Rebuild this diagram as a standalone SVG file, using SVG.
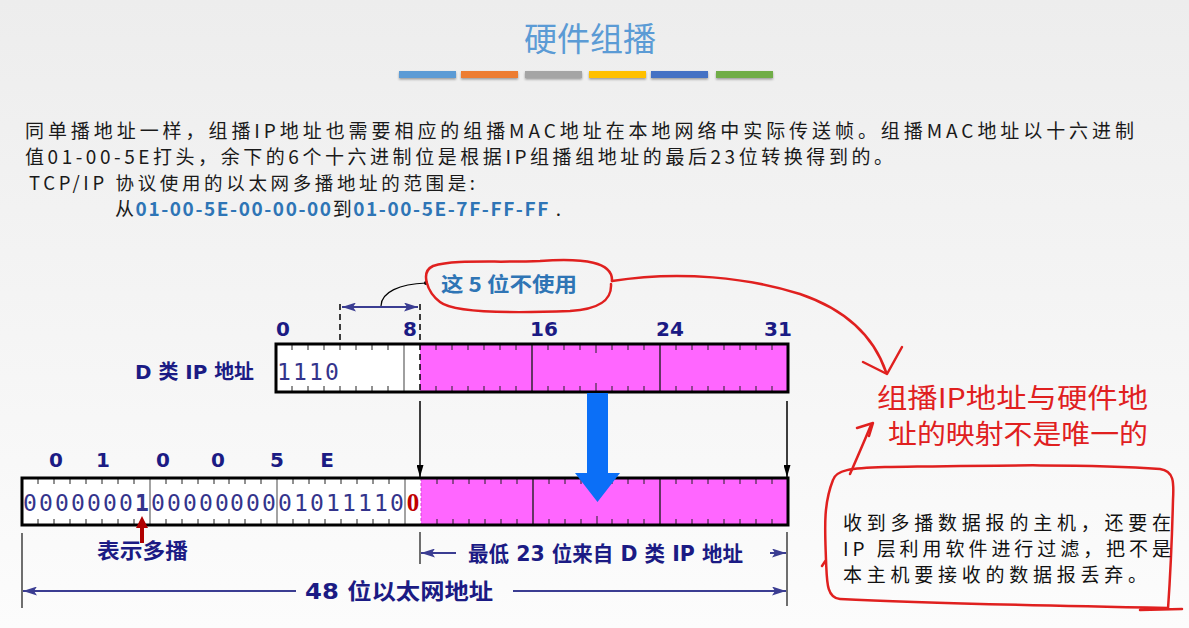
<svg xmlns="http://www.w3.org/2000/svg" width="1189" height="628" viewBox="0 0 1189 628">
  <style>
    .para { font-family: "Noto Sans CJK SC", "Liberation Sans", sans-serif; font-size: 19px; fill: #1a1a1a; }
    .hex { font-weight: bold; fill: #2e75b6; }
    .lbl { font-family: "DejaVu Sans", "Noto Sans CJK SC", sans-serif; font-weight: bold; fill: #1b1b84; }
    .bits { font-family: "DejaVu Sans Mono", "Liberation Mono", monospace; font-size: 23px; fill: #34348c; text-anchor: middle; }
    .box { fill: none; stroke: #000; stroke-width: 3; }
    .tick { stroke: #222; stroke-width: 1; fill: none; }
    .major { stroke: #222; stroke-width: 1.4; }
    .dim { stroke: #3b3d92; stroke-width: 2; fill: none; }
    .ink { stroke: #e0201f; stroke-width: 2.5; fill: none; stroke-linecap: round; stroke-linejoin: round; }
    .hand { font-family: "Noto Sans CJK SC", sans-serif; font-size: 27px; fill: #e0201f; }
  </style>
  <defs>
    <linearGradient id="bg" x1="0" y1="0" x2="0" y2="1">
      <stop offset="0" stop-color="#ededed"/>
      <stop offset="1" stop-color="#fcfcfc"/>
    </linearGradient>
    <filter id="barShadow" x="-5%" y="-50%" width="110%" height="250%">
      <feDropShadow dx="0" dy="1.5" stdDeviation="1" flood-color="#000" flood-opacity="0.35"/>
    </filter>
    <marker id="navyHead" viewBox="0 0 14 9" refX="14" refY="4.5" markerWidth="14" markerHeight="9" markerUnits="userSpaceOnUse" orient="auto-start-reverse">
      <path d="M0,0 L14,4.5 L0,9 L3,4.5 z" fill="#3b3d92"/>
    </marker>
    <marker id="blackHead" viewBox="0 0 12 7" refX="12" refY="3.5" markerWidth="12" markerHeight="7" markerUnits="userSpaceOnUse" orient="auto">
      <path d="M0,0 L12,3.5 L0,7 z" fill="#000"/>
    </marker>
  </defs>

  <rect width="1189" height="628" fill="url(#bg)"/>

  <!-- title and colour strip -->
  <g id="title">
    <text x="590" y="51" text-anchor="middle" font-family="Noto Sans CJK SC, sans-serif" font-size="33" fill="#5b9bd5">硬件组播</text>
    <g filter="url(#barShadow)">
      <rect x="399" y="71" width="57" height="7" fill="#5b9bd5"/>
      <rect x="461" y="71" width="57" height="7" fill="#ed7d31"/>
      <rect x="525" y="71" width="57" height="7" fill="#a5a5a5"/>
      <rect x="589" y="71" width="57" height="7" fill="#ffc000"/>
      <rect x="651" y="71" width="57" height="7" fill="#4472c4"/>
      <rect x="716" y="71" width="57" height="7" fill="#70ad47"/>
    </g>
  </g>

  <!-- explanatory paragraph -->
  <g id="intro" class="para">
    <text x="25" y="138" textLength="1109" lengthAdjust="spacing">同单播地址一样，组播IP地址也需要相应的组播MAC地址在本地网络中实际传送帧。组播MAC地址以十六进制</text>
    <text x="25" y="164" textLength="868" lengthAdjust="spacing">值01-00-5E打头，余下的6个十六进制位是根据IP组播组地址的最后23位转换得到的。</text>
    <text x="29" y="190" font-size="18.5" textLength="446" lengthAdjust="spacing">TCP/IP 协议使用的以太网多播地址的范围是:</text>
    <text x="115" y="216" textLength="446" lengthAdjust="spacing">从<tspan class="hex">01-00-5E-00-00-00</tspan>到<tspan class="hex">01-00-5E-7F-FF-FF</tspan> .</text>
  </g>

  <!-- D class IP address, 32 bits -->
  <g id="ip-address">
    <text class="lbl" x="135" y="379" font-size="20" textLength="119" lengthAdjust="spacingAndGlyphs">D 类 IP 地址</text>
    <g class="lbl" font-size="20" text-anchor="middle">
      <text x="283" y="336">0</text>
      <text x="410" y="336">8</text>
      <text x="544" y="336">16</text>
      <text x="670" y="336">24</text>
      <text x="778" y="336">31</text>
    </g>
    <rect x="276" y="344" width="144" height="48" fill="#ffffff"/>
    <rect x="420" y="344" width="368" height="48" fill="#ff66ff"/>
    <path class="tick" d="M292 344v6M308 344v6M324 344v6M340 344v6M356 344v6M372 344v6M388 344v6M436 344v6M452 344v6M468 344v6M484 344v6M500 344v6M516 344v6M548 344v6M564 344v6M580 344v6M596 344v9M612 344v6M628 344v6M644 344v6M676 344v6M692 344v6M708 344v6M724 344v6M740 344v6M756 344v6M772 344v6
      M292 392v-6M308 392v-6M324 392v-6M340 392v-6M356 392v-6M372 392v-6M388 392v-6M436 392v-6M452 392v-6M468 392v-6M484 392v-6M500 392v-6M516 392v-6M548 392v-6M564 392v-6M580 392v-6M596 392v-9M612 392v-6M628 392v-6M644 392v-6M676 392v-6M692 392v-6M708 392v-6M724 392v-6M740 392v-6M756 392v-6M772 392v-6"/>
    <line x1="404" y1="344" x2="404" y2="392" stroke="#777" stroke-width="1.4"/>
    <line class="major" x1="532" y1="344" x2="532" y2="392"/>
    <line class="major" x1="660" y1="344" x2="660" y2="392"/>
    <rect class="box" x="276" y="344" width="512" height="48"/>
    <text class="bits" x="284 300 316 332" y="380">1110</text>
  </g>

  <!-- 48-bit Ethernet multicast address -->
  <g id="mac-address">
    <g class="lbl" font-size="20" text-anchor="middle">
      <text x="56" y="467">0</text>
      <text x="103" y="467">1</text>
      <text x="163" y="467">0</text>
      <text x="218" y="467">0</text>
      <text x="277" y="467">5</text>
      <text x="327" y="467">E</text>
    </g>
    <rect x="22" y="478" width="399" height="47" fill="#ffffff"/>
    <rect x="421" y="478" width="367" height="47" fill="#ff66ff"/>
    <path class="tick" d="M38 478v6M54 478v6M70 478v6M86 478v6M102 478v6M118 478v6M134 478v6M166 478v6M182 478v6M198 478v6M214 478v6M229 478v6M245 478v6M261 478v6M293 478v6M309 478v6M325 478v6M341 478v6M357 478v6M373 478v6M389 478v6M437 478v6M453 478v6M469 478v6M485 478v6M501 478v6M517 478v6M549 478v6M565 478v6M581 478v6M597 478v9M612 478v6M628 478v6M644 478v6M676 478v6M692 478v6M708 478v6M724 478v6M740 478v6M756 478v6M772 478v6
      M38 525v-6M54 525v-6M70 525v-6M86 525v-6M102 525v-6M118 525v-6M134 525v-6M166 525v-6M182 525v-6M198 525v-6M214 525v-6M229 525v-6M245 525v-6M261 525v-6M293 525v-6M309 525v-6M325 525v-6M341 525v-6M357 525v-6M373 525v-6M389 525v-6M437 525v-6M453 525v-6M469 525v-6M485 525v-6M501 525v-6M517 525v-6M549 525v-6M565 525v-6M581 525v-6M597 525v-9M612 525v-6M628 525v-6M644 525v-6M676 525v-6M692 525v-6M708 525v-6M724 525v-6M740 525v-6M756 525v-6M772 525v-6"/>
    <line x1="150" y1="478" x2="150" y2="525" stroke="#666" stroke-width="1.2"/>
    <line x1="277" y1="478" x2="277" y2="525" stroke="#666" stroke-width="1.2"/>
    <line x1="405" y1="478" x2="405" y2="525" stroke="#666" stroke-width="1.2"/>
    <line x1="421" y1="478" x2="421" y2="525" stroke="#d63fd6" stroke-width="1" stroke-dasharray="3 2"/>
    <line class="major" x1="533" y1="478" x2="533" y2="525"/>
    <line class="major" x1="660" y1="478" x2="660" y2="525"/>
    <rect class="box" x="22" y="478" width="766" height="47"/>
    <text class="bits" y="511" x="30 46 62 78 94 110 126">0000000</text>
    <text class="bits" y="511" x="142" fill="#c00000" font-weight="bold" font-size="25">1</text>
    <text class="bits" y="511" x="158 174 190 206 222 237 253 269 285 301 317 333 349 365 381 397">0000000001011110</text>
    <text x="413" y="511" text-anchor="middle" font-family="Liberation Serif, serif" font-weight="bold" font-size="25" fill="#c00000">0</text>
  </g>

  <!-- connectors between the two address layouts -->
  <g id="connectors">
    <!-- unused 5 bits span -->
    <line x1="340" y1="304" x2="340" y2="344" stroke="#000" stroke-width="1.5" stroke-dasharray="6 4"/>
    <line x1="420" y1="304" x2="420" y2="392" stroke="#000" stroke-width="1.5" stroke-dasharray="6 4"/>
    <line class="dim" x1="342" y1="307" x2="418" y2="307" marker-start="url(#navyHead)" marker-end="url(#navyHead)"/>
    <path d="M381 306 C381 292, 400 284, 426 283" stroke="#000" stroke-width="1.2" fill="none"/>
    <circle cx="426" cy="283" r="2" fill="#000"/>
    <!-- bit mapping arrows -->
    <line x1="420" y1="401" x2="420" y2="477" stroke="#000" stroke-width="1.5" marker-end="url(#blackHead)"/>
    <line x1="787" y1="401" x2="787" y2="477" stroke="#000" stroke-width="1.5" marker-end="url(#blackHead)"/>
    <polygon points="587,393 608,393 608,473 620,473 597.5,502 575,473 587,473" fill="#0b6ff7"/>
    <!-- multicast flag marker -->
    <polygon points="140,543 144,543 144,528 148,528 142,516 136,528 140,528" fill="#b00000"/>
    <!-- dimension lines -->
    <line x1="420" y1="532" x2="420" y2="564" stroke="#333" stroke-width="1.4"/>
    <line x1="787" y1="532" x2="787" y2="606" stroke="#333" stroke-width="1.4"/>
    <line x1="22" y1="533" x2="22" y2="608" stroke="#333" stroke-width="1.4"/>
    <line class="dim" x1="456" y1="553" x2="421" y2="553" marker-end="url(#navyHead)"/>
    <line class="dim" x1="770" y1="553" x2="786" y2="553" marker-end="url(#navyHead)"/>
    <line class="dim" x1="296" y1="591" x2="23" y2="591" marker-end="url(#navyHead)"/>
    <line class="dim" x1="513" y1="591" x2="786" y2="591" marker-end="url(#navyHead)"/>
  </g>

  <g id="labels">
    <text class="lbl" x="97" y="558" font-size="21" textLength="91" lengthAdjust="spacingAndGlyphs">表示多播</text>
    <text class="lbl" x="468" y="561" font-size="21" textLength="275" lengthAdjust="spacingAndGlyphs">最低 23 位来自 D 类 IP 地址</text>
    <text class="lbl" x="305" y="599" font-size="22" textLength="188" lengthAdjust="spacingAndGlyphs">48 位以太网地址</text>
  </g>

  <!-- handwritten annotations -->
  <g id="note-unused">
    <path class="ink" d="M612 281 C613 262, 585 258, 540 261 C495 263, 455 259, 433 266 C420 272, 427 292, 440 302 C455 314, 520 313, 570 311 C600 309, 612 300, 611 284"/>
    <text x="441" y="292" font-family="Noto Sans CJK SC, sans-serif" font-weight="bold" font-size="20" fill="#2f75b5" textLength="136" lengthAdjust="spacingAndGlyphs">这 5 位不使用</text>
    <path class="ink" d="M612 281 C680 270, 750 278, 800 294 C850 311, 875 340, 886 372"/>
    <path class="ink" d="M863 362 L887 374 L902 347"/>
  </g>

  <g id="note-mapping">
    <text class="hand" x="877" y="408" textLength="271" lengthAdjust="spacingAndGlyphs">组播IP地址与硬件地</text>
    <text class="hand" x="888" y="444" textLength="260" lengthAdjust="spacingAndGlyphs">址的映射不是唯一的</text>
    <path class="ink" d="M850 474 C857 458, 864 442, 871 425"/>
    <path class="ink" d="M857 428 L873 423 L869 436"/>
  </g>

  <g id="note-filter">
    <path class="ink" d="M833 480 C836 470, 850 468, 885 467 C960 466, 1080 463, 1160 469 C1174 471, 1174 482, 1173 500 C1172 540, 1170 580, 1168 609 M1140 610 L1182 609 M1168 608 C1060 606, 920 603, 840 599 C826 598, 827 580, 826 560 C825 530, 823 505, 833 480 M826 560 L822 566"/>
    <g font-family="Noto Sans CJK SC, sans-serif" font-size="19" fill="#111">
      <text x="843" y="530" textLength="328" lengthAdjust="spacing">收到多播数据报的主机，还要在</text>
      <text x="843" y="556" textLength="328" lengthAdjust="spacing">IP 层利用软件进行过滤，把不是</text>
      <text x="843" y="582" textLength="304" lengthAdjust="spacing">本主机要接收的数据报丢弃。</text>
    </g>
  </g>
</svg>
